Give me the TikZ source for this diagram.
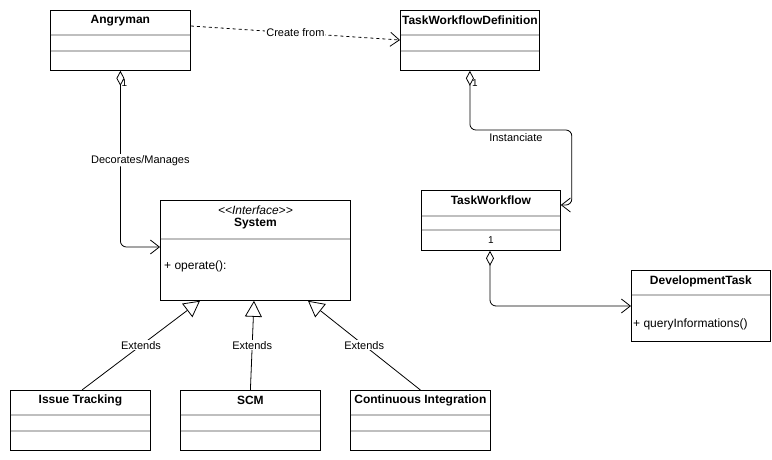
\documentclass[tikz,border=0pt]{standalone}
\usepackage{fontspec}
\setmainfont{Liberation Sans}
\usetikzlibrary{arrows.meta,calc}
\begin{document}
\begin{tikzpicture}[x=1pt,y=-1pt,
  box/.style={draw,line width=0.8pt,anchor=north west,inner sep=0pt},
  sepline/.style={draw=black!25,line width=1.1pt},
  ttl/.style={font=\fontsize{12}{14}\selectfont\bfseries,inner sep=0pt},
  lbl/.style={font=\fontsize{11}{13}\selectfont,inner sep=1pt},
  member/.style={font=\fontsize{12}{14}\selectfont,inner sep=0pt,anchor=west},
  mult/.style={font=\fontsize{10}{11}\selectfont,inner sep=0pt},
  conn/.style={line width=0.8pt},
  barb/.style={-{Straight Barb[length=9pt,width=14pt,line width=0.8pt]}},
  agg/.style={{Diamond[open,length=15pt,width=8pt,line width=0.8pt]}-{Straight Barb[length=9pt,width=14pt,line width=0.8pt]}},
  gen/.style={-{Triangle[open,length=16pt,width=17pt,line width=0.8pt]}}]
\useasboundingbox (0,0) rectangle (772,460);

% Angryman
\node[box,minimum width=140pt,minimum height=60pt] (angry) at (50,10) {};
\node[ttl] at ($(angry.north)+(0,10.5)$) {Angryman};
\draw[sepline] ($(angry.north west)+(0.5,25)$) -- ($(angry.north east)+(-0.5,25)$);
\draw[sepline] ($(angry.north west)+(0.5,41)$) -- ($(angry.north east)+(-0.5,41)$);

% TaskWorkflowDefinition
\node[box,minimum width=139pt,minimum height=60pt] (twd) at (400,10) {};
\node[ttl] at ($(twd.north)+(0,10.5)$) {TaskWorkflowDefinition};
\draw[sepline] ($(twd.north west)+(0.5,25)$) -- ($(twd.north east)+(-0.5,25)$);
\draw[sepline] ($(twd.north west)+(0.5,41)$) -- ($(twd.north east)+(-0.5,41)$);

% System
\node[box,minimum width=190pt,minimum height=100pt] (sys) at (160,200) {};
\node[inner sep=0pt,font=\fontsize{12}{14}\selectfont\itshape] at ($(sys.north)+(0,10)$) {<{}<Interface>{}>};
\node[ttl] at ($(sys.north)+(0,24)$) {System};
\draw[sepline] ($(sys.north west)+(0.5,39)$) -- ($(sys.north east)+(-0.5,39)$);
\node[member] at ($(sys.north west)+(4,66)$) {+ operate():};

% TaskWorkflow
\node[box,minimum width=139pt,minimum height=60pt] (tw) at (421,190) {};
\node[ttl] at ($(tw.north)+(0,10.5)$) {TaskWorkflow};
\draw[sepline] ($(tw.north west)+(0.5,26)$) -- ($(tw.north east)+(-0.5,26)$);
\draw[sepline] ($(tw.north west)+(0.5,40)$) -- ($(tw.north east)+(-0.5,40)$);
\node[mult] at ($(tw.north west)+(70,50)$) {1};

% DevelopmentTask
\node[box,minimum width=139pt,minimum height=71pt] (dt) at (631,270) {};
\node[ttl] at ($(dt.north)+(0,11)$) {DevelopmentTask};
\draw[sepline] ($(dt.north west)+(0.5,25)$) -- ($(dt.north east)+(-0.5,25)$);
\node[member] at ($(dt.north west)+(2,54)$) {+ queryInformations()};

% Bottom classes
\node[box,minimum width=140pt,minimum height=60pt] (it) at (10,390) {};
\node[ttl] at ($(it.north)+(0,10.5)$) {Issue Tracking};
\draw[sepline] ($(it.north west)+(0.5,25)$) -- ($(it.north east)+(-0.5,25)$);
\draw[sepline] ($(it.north west)+(0.5,41)$) -- ($(it.north east)+(-0.5,41)$);

\node[box,minimum width=140pt,minimum height=60pt] (scm) at (180,390) {};
\node[ttl] at ($(scm.north)+(0,10.5)$) {SCM};
\draw[sepline] ($(scm.north west)+(0.5,25)$) -- ($(scm.north east)+(-0.5,25)$);
\draw[sepline] ($(scm.north west)+(0.5,41)$) -- ($(scm.north east)+(-0.5,41)$);

\node[box,minimum width=140pt,minimum height=60pt] (ci) at (350,390) {};
\node[ttl] at ($(ci.north)+(0,10.5)$) {Continuous Integration};
\draw[sepline] ($(ci.north west)+(0.5,25)$) -- ($(ci.north east)+(-0.5,25)$);
\draw[sepline] ($(ci.north west)+(0.5,41)$) -- ($(ci.north east)+(-0.5,41)$);

% Create from
\draw[conn,barb,dash pattern=on 3pt off 3pt] ($(angry.north east)+(0,16)$) -- node[lbl,fill=white] {Create from} ($(twd.north west)+(0,30)$);

% Decorates/Manages
\draw[conn,agg,rounded corners=6pt] (angry.south) |- node[lbl,fill=white,pos=0.254,xshift=20pt] {Decorates/Manages} ($(sys.north west)+(0,47)$);
\node[mult] at ($(angry.south)+(4,12)$) {1};

% Instanciate
\draw[conn,agg,rounded corners=6pt] (twd.south) |- ($(tw.north east)+(11,-60)$) -- ($(tw.north east)+(11,15)$) [sharp corners] -- ($(tw.north east)+(0,15)$);
\node[mult] at ($(twd.south)+(5,12)$) {1};
\node[lbl] at ($(twd.south)+(46,67)$) {Instanciate};

% TaskWorkflow -> DevelopmentTask
\draw[conn,agg,rounded corners=6pt] ($(tw.south west)+(69,0)$) |- ($(dt.north west)+(0,36)$);

% Extends
\draw[conn,gen] ($(it.north west)+(72,0)$) -- node[lbl,fill=white] {Extends} ($(sys.south west)+(40,0)$);
\draw[conn,gen] (scm.north) -- node[lbl,fill=white] {Extends} ($(sys.south west)+(94,0)$);
\draw[conn,gen] (ci.north) -- node[lbl,fill=white] {Extends} ($(sys.south west)+(148,0)$);
\end{tikzpicture}
\end{document}
